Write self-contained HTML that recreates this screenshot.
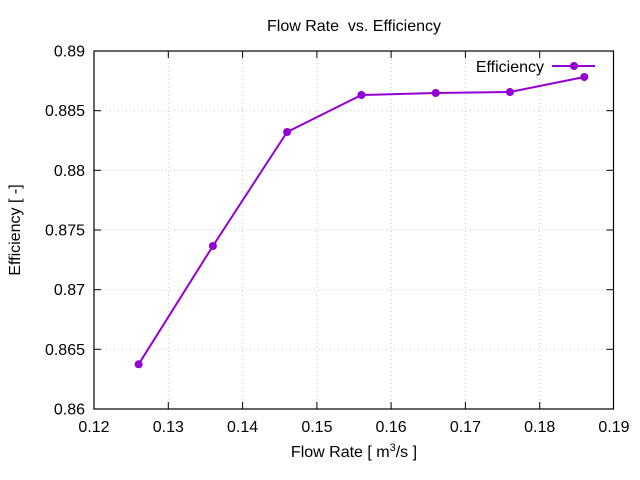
<!DOCTYPE html>
<html><head><meta charset="utf-8"><style>
html,body{margin:0;padding:0;background:#fff;}
svg{display:block;font-family:"Liberation Sans",Arial,sans-serif;}
</style></head><body>
<svg width="640" height="480" viewBox="0 0 640 480" xmlns="http://www.w3.org/2000/svg">
<rect width="640" height="480" fill="#fff"/>
<g stroke="#c8c8c8" stroke-width="1" stroke-dasharray="1,3">
<line x1="168.3" y1="51" x2="168.3" y2="409"/>
<line x1="242.6" y1="51" x2="242.6" y2="409"/>
<line x1="316.9" y1="51" x2="316.9" y2="409"/>
<line x1="391.1" y1="51" x2="391.1" y2="409"/>
<line x1="465.4" y1="51" x2="465.4" y2="409"/>
<line x1="539.7" y1="51" x2="539.7" y2="409"/>
<line x1="94" y1="110.7" x2="613.5" y2="110.7"/>
<line x1="94" y1="170.3" x2="613.5" y2="170.3"/>
<line x1="94" y1="230" x2="613.5" y2="230"/>
<line x1="94" y1="289.7" x2="613.5" y2="289.7"/>
<line x1="94" y1="349.3" x2="613.5" y2="349.3"/>
</g>
<g stroke="#000" stroke-width="1">
<line x1="168.3" y1="409" x2="168.3" y2="402"/><line x1="168.3" y1="51" x2="168.3" y2="58"/>
<line x1="242.6" y1="409" x2="242.6" y2="402"/><line x1="242.6" y1="51" x2="242.6" y2="58"/>
<line x1="316.9" y1="409" x2="316.9" y2="402"/><line x1="316.9" y1="51" x2="316.9" y2="58"/>
<line x1="391.1" y1="409" x2="391.1" y2="402"/><line x1="391.1" y1="51" x2="391.1" y2="58"/>
<line x1="465.4" y1="409" x2="465.4" y2="402"/><line x1="465.4" y1="51" x2="465.4" y2="58"/>
<line x1="539.7" y1="409" x2="539.7" y2="402"/><line x1="539.7" y1="51" x2="539.7" y2="58"/>
<line x1="94" y1="110.7" x2="101" y2="110.7"/><line x1="613.5" y1="110.7" x2="606.5" y2="110.7"/>
<line x1="94" y1="170.3" x2="101" y2="170.3"/><line x1="613.5" y1="170.3" x2="606.5" y2="170.3"/>
<line x1="94" y1="230" x2="101" y2="230"/><line x1="613.5" y1="230" x2="606.5" y2="230"/>
<line x1="94" y1="289.7" x2="101" y2="289.7"/><line x1="613.5" y1="289.7" x2="606.5" y2="289.7"/>
<line x1="94" y1="349.3" x2="101" y2="349.3"/><line x1="613.5" y1="349.3" x2="606.5" y2="349.3"/>
</g>
<rect x="94" y="51" width="519.5" height="358" fill="none" stroke="#000" stroke-width="1.2"/>
<g font-size="16" fill="#000" text-anchor="end">
<text x="85" y="56.5">0.89</text>
<text x="85" y="116.2">0.885</text>
<text x="85" y="175.8">0.88</text>
<text x="85" y="235.5">0.875</text>
<text x="85" y="295.2">0.87</text>
<text x="85" y="354.8">0.865</text>
<text x="85" y="414.5">0.86</text>
</g>
<g font-size="16" fill="#000" text-anchor="middle">
<text x="94" y="432">0.12</text>
<text x="168.3" y="432">0.13</text>
<text x="242.6" y="432">0.14</text>
<text x="316.9" y="432">0.15</text>
<text x="391.1" y="432">0.16</text>
<text x="465.4" y="432">0.17</text>
<text x="539.7" y="432">0.18</text>
<text x="614" y="432">0.19</text>
<text x="354" y="31">Flow Rate&#160; vs. Efficiency</text>
<text x="354" y="457">Flow Rate [ m<tspan font-size="11" dy="-6">3</tspan><tspan dy="6">/s ]</tspan></text>
<text transform="translate(20,230) rotate(-90)" x="0" y="0">Efficiency [ -]</text>
</g>
<text x="544" y="72" font-size="16" text-anchor="end">Efficiency</text>
<g stroke="#9400d3" stroke-width="2" fill="none">
<line x1="552" y1="66" x2="595" y2="66"/>
<polyline points="138.6,364.3 212.9,246 287.1,132 361.4,95 435.7,93 510,92 584.3,77"/>
</g>
<g fill="#9400d3">
<circle cx="574" cy="66" r="4"/>
<circle cx="138.6" cy="364.3" r="4"/>
<circle cx="212.9" cy="246" r="4"/>
<circle cx="287.1" cy="132" r="4"/>
<circle cx="361.4" cy="95" r="4"/>
<circle cx="435.7" cy="93" r="4"/>
<circle cx="510" cy="92" r="4"/>
<circle cx="584.3" cy="77" r="4"/>
</g>
</svg>
</body></html>
